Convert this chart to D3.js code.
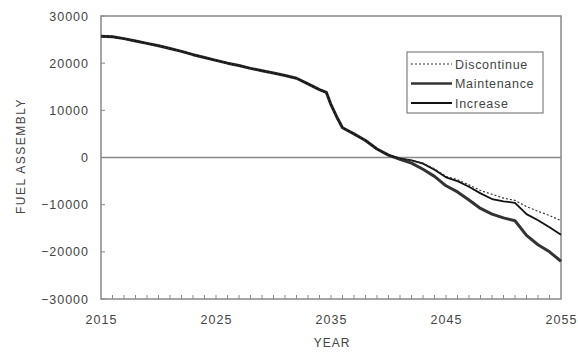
<!DOCTYPE html>
<html><head><meta charset="utf-8">
<script src="https://cdn.jsdelivr.net/npm/d3@7"></script>
<style>
body{margin:0;background:#fff;}
text{font-family:"Liberation Sans",Arial,sans-serif;fill:#444;}
</style></head><body>
<svg id="c" width="578" height="352"></svg>
<script>
const years = [2015,2016,2017,2018,2019,2020,2021,2022,2023,2024,2025,2026,2027,2028,2029,2030,2031,2032,2033,2034,2034.6,2035,2035.5,2036,2037,2038,2039,2040,2041,2042,2043,2044,2045,2046,2047,2048,2049,2050,2051,2052,2053,2054,2055];
const common = [25700,25600,25200,24700,24200,23700,23100,22500,21800,21200,20600,20000,19500,18900,18400,17900,17400,16800,15600,14400,13800,11200,8600,6300,5000,3600,1800,500];
const maintenanceTail = [-400,-1200,-2500,-4000,-6000,-7300,-9000,-10800,-12000,-12800,-13400,-16500,-18500,-20000,-22000];
const increaseTail    = [-200,-600,-1300,-2600,-4200,-5000,-6200,-7600,-8800,-9300,-9600,-12000,-13300,-14800,-16400];
const discontinueTail = [-200,-600,-1200,-2400,-4000,-4700,-5800,-7000,-7800,-8600,-9100,-10400,-11400,-12300,-13400];
const seriesNames = ["Discontinue","Maintenance","Increase"];
const xTicks = [2015,2025,2035,2045,2055];
const yTicks = [30000,20000,10000,0,-10000,-20000,-30000];

const series = {
  Discontinue: common.concat(discontinueTail),
  Maintenance: common.concat(maintenanceTail),
  Increase: common.concat(increaseTail)
};
const styles = {
  Discontinue:{w:1.2,dash:"2,2",c:"#333"},
  Maintenance:{w:3,dash:null,c:"#333"},
  Increase:{w:1.8,dash:null,c:"#111"}
};

const svg = d3.select("#c");
const L=101,R=561,T=16,B=299;
const x = d3.scaleLinear().domain([2015,2055]).range([L,R]);
const y = d3.scaleLinear().domain([-30000,30000]).range([B,T]);

// zero line
svg.append("line").attr("x1",L).attr("x2",R).attr("y1",y(0)).attr("y2",y(0))
  .attr("stroke","#888").attr("stroke-width",1.5);

// axes
const yAxis = d3.axisLeft(y).tickValues(yTicks).tickSize(0).tickPadding(12).tickFormat(d3.format("d"));
const gy = svg.append("g").attr("transform",`translate(${L},0)`).call(yAxis);
gy.select(".domain").remove();
gy.selectAll("text").style("font-size","12.5px").style("letter-spacing","1px").attr("fill","#444");
svg.append("g").selectAll("line").data(yTicks).join("line")
  .attr("x1",L).attr("x2",L+4).attr("y1",d=>y(d)).attr("y2",d=>y(d)).attr("stroke","#888").attr("stroke-width",1);

const xAxis = d3.axisBottom(x).tickValues(xTicks).tickSize(0).tickPadding(16).tickFormat(d3.format("d"));
const gx = svg.append("g").attr("transform",`translate(0,${B})`).call(xAxis);
gx.select(".domain").remove();
gx.selectAll("text").style("font-size","12.5px").style("letter-spacing","1px").attr("fill","#444");
svg.append("g").selectAll("line").data(d3.range(2016,2055)).join("line")
  .attr("x1",d=>x(d)).attr("x2",d=>x(d)).attr("y1",B).attr("y2",B-4).attr("stroke","#888").attr("stroke-width",1);

// frame
svg.append("rect").attr("x",L).attr("y",T).attr("width",R-L).attr("height",B-T)
  .attr("fill","none").attr("stroke","#888").attr("stroke-width",1.5);

// lines
const line = d3.line().x((d,i)=>x(years[i])).y(d=>y(d));
["Maintenance","Increase","Discontinue"].forEach(n=>{
  svg.append("path").datum(series[n]).attr("d",line).attr("fill","none")
    .attr("stroke",styles[n].c).attr("stroke-width",styles[n].w)
    .attr("stroke-dasharray",styles[n].dash).attr("stroke-linejoin","round");
});

// axis titles
svg.append("text").attr("x",332).attr("y",347).attr("text-anchor","middle")
  .style("font-size","12px").style("letter-spacing","1px").text("YEAR");
svg.append("text").attr("transform","translate(25,156) rotate(-90)").attr("text-anchor","middle")
  .style("font-size","12px").style("letter-spacing","1.5px").text("FUEL ASSEMBLY");

// legend
const lg = svg.append("g");
lg.append("rect").attr("x",407).attr("y",52).attr("width",136).attr("height",61)
  .attr("fill","#fff").attr("stroke","#666").attr("stroke-width",1);
seriesNames.forEach((n,i)=>{
  const yy = 64 + i*19.5;
  lg.append("line").attr("x1",411).attr("x2",452).attr("y1",yy).attr("y2",yy)
    .attr("stroke",styles[n].c).attr("stroke-width",styles[n].w===3?2.5:styles[n].w)
    .attr("stroke-dasharray",styles[n].dash);
  lg.append("text").attr("x",455).attr("y",yy+4.5).style("font-size","12.5px").style("letter-spacing","0.7px").text(n);
});
</script>
</body></html>
